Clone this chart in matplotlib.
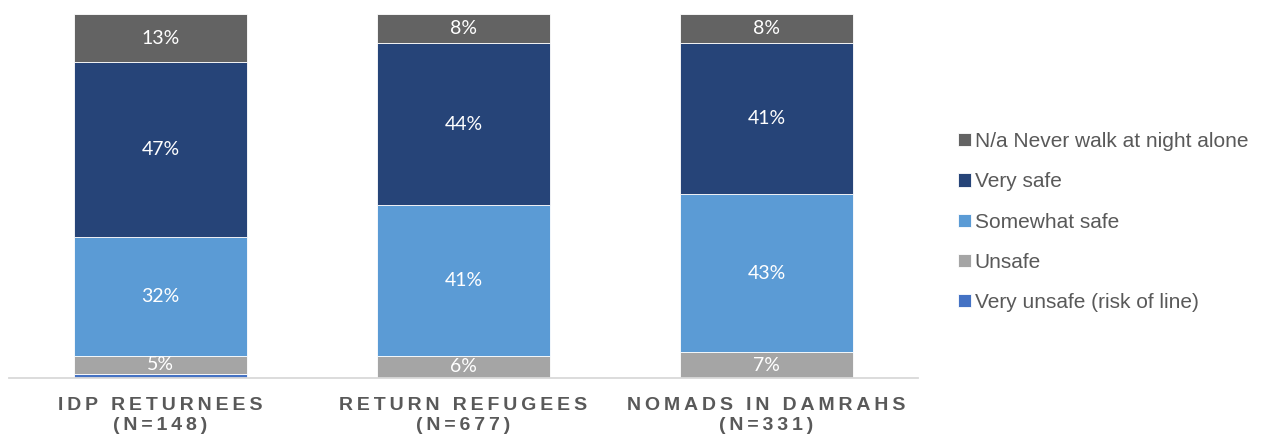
import numpy as np
import matplotlib.pyplot as plt

# data (percent, as printed on the chart)
groups = ["IDP RETURNEES", "RETURN REFUGEES", "NOMADS IN DAMRAHS"]
sizes = ["(N=148)", "(N=677)", "(N=331)"]
series = ["Very unsafe (risk of line)", "Unsafe", "Somewhat safe", "Very safe",
          "N/a Never walk at night alone"]
very_unsafe = [1, 0, 0]
unsafe = [5, 6, 7]
somewhat_safe = [32, 41, 43]
very_safe = [47, 44, 41]
never_walk = [13, 8, 8]

colors = ["#4472C4", "#A5A5A5", "#5B9BD5", "#264478", "#636363"]

vals = np.array([very_unsafe, unsafe, somewhat_safe, very_safe, never_walk], dtype=float)
# bars are shown as shares of each column's total
shares = vals / vals.sum(axis=0) * 100

fig = plt.figure(figsize=(12.61, 4.41), dpi=100)
ax = fig.add_axes([9 / 1261, 1 - 378 / 441, (918 - 9) / 1261, (378 - 14) / 441])

x = np.arange(len(groups))
bottom = np.zeros(len(groups))
handles = []
for i, name in enumerate(series):
    b = ax.bar(x, shares[i], 0.571, bottom=bottom, color=colors[i],
               edgecolor="white", linewidth=0.6, label=name)
    handles.append(b)
    for j in range(len(groups)):
        if vals[i, j] >= 2:
            ax.text(x[j], bottom[j] + shares[i, j] / 2, "%d%%" % vals[i, j],
                    ha="center", va="center", color="white",
                    fontsize=14, family="Lato")
    bottom += shares[i]

ax.set_xlim(-0.5, 2.5)
ax.set_ylim(0, 100)
ax.set_yticks([])
for s in ["top", "right", "left"]:
    ax.spines[s].set_visible(False)
ax.spines["bottom"].set_color("#D9D9D9")
ax.spines["bottom"].set_linewidth(1.3)

def spaced(t):
    # fake letter spacing with thin spaces
    return "\u2009".join(t)

ax.set_xticks(x)
ax.set_xticklabels([spaced(g) + "\n" + spaced(n) for g, n in zip(groups, sizes)],
                   fontsize=14, fontweight="bold", color="#595959",
                   family=["Liberation Sans", "DejaVu Sans"], linespacing=1.22)
ax.tick_params(axis="x", length=0, pad=14)

leg = fig.legend(handles[::-1], series[::-1], loc="center left",
                 bbox_to_anchor=(958 / 1261, 1 - 222 / 441),
                 frameon=False, borderpad=0, borderaxespad=0,
                 handlelength=0.6, handleheight=0.6,
                 handletextpad=0.2, labelspacing=1.02,
                 prop={"family": "Liberation Sans", "size": 15})
for t in leg.get_texts():
    t.set_color("#595959")

fig.savefig("out.png", dpi=100)
